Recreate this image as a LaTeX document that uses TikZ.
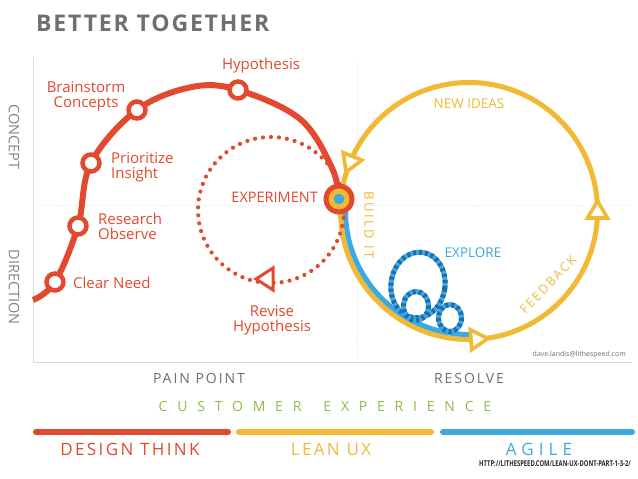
\documentclass[tikz,border=0pt]{standalone}
\usepackage{fontspec}
\usetikzlibrary{calc}
\setmainfont{Open Sans}
\newfontfamily\titlefont[LetterSpace=8]{Open Sans}
\newfontfamily\spfont[LetterSpace=14]{Open Sans}
\newfontfamily\bspfont[LetterSpace=20]{Open Sans}
\newfontfamily\fspfont[LetterSpace=16]{Open Sans}
\newfontfamily\wspfont[LetterSpace=30]{Open Sans}
\newfontfamily\xwspfont[LetterSpace=70]{Open Sans}
\definecolor{cred}{HTML}{E2492F}
\definecolor{cylw}{HTML}{F2B935}
\definecolor{cblue}{HTML}{3DA9E1}
\definecolor{cdblue}{HTML}{1E6BB0}
\definecolor{cgreen}{HTML}{8DBB4C}
\definecolor{cgrey}{HTML}{6E6F71}
\definecolor{caxis}{HTML}{DADADA}
\tikzset{
  marker/.style={circle, draw=cred, fill=white, line width=4.5pt, minimum size=17pt, inner sep=0pt},
  rlbl/.style={text=cred, font=\fontsize{15}{15}\selectfont, inner sep=0pt},
  ylbl/.style={text=cylw, font=\fontsize{13.5}{13.5}\selectfont, inner sep=0pt},
  glbl/.style={text=cgrey, font=\spfont\fontsize{14}{14}\selectfont, inner sep=0pt},
  otri/.pic={\draw[line width=3.6pt, fill=white, line join=miter] (10,0) -- (-7,10) -- (-7,-10) -- cycle;},
  rtri/.pic={\draw[line width=3pt, fill=white, line join=miter] (-10,0) -- (7,11) -- (7,-11) -- cycle;},
}
\begin{document}
\begin{tikzpicture}[x=1pt,y=-1pt]
\useasboundingbox (0,0) rectangle (638,479);
\fill[white] (0,0) rectangle (638,479);
% title
\node[anchor=west, text=cgrey, font=\titlefont\bfseries\fontsize{23}{24}\selectfont, inner sep=0pt] (title) at (36,23) {BETTER TOGETHER};
% axes and grid
\coordinate (axTop) at (33,57);
\coordinate (axOrig) at (33,362);
\coordinate (axRight) at (632,362);
\draw[caxis, line width=1pt] (axTop) -- (axOrig) -- (axRight);
\coordinate (gL) at (40,205); \coordinate (gR) at (632,205);
\coordinate (gT) at (357,60); \coordinate (gB) at (357,360);
\draw[caxis!60, line width=0.6pt, dotted] (gL) -- (gR);
\draw[caxis!60, line width=0.6pt, dotted] (gT) -- (gB);
\node[rotate=-90, text=cgrey!85, font=\fontsize{14.5}{14}\selectfont, inner sep=0pt] (concept) at (14,137) {CONCEPT};
\node[rotate=-90, text=cgrey!85, font=\fontsize{14.5}{14}\selectfont, inner sep=0pt] (direction) at (14,287) {DIRECTION};
% yellow loop
\coordinate (yc) at (469,211);
\draw[cylw, line width=5pt] (yc) circle[radius=128.5];
% blue track
\draw[cblue, line width=5pt] (yc) ++(185:123.5) arc[start angle=185, end angle=89, radius=123.5];
% explore loops
\coordinate (l1) at (418,285);
\coordinate (l2) at (416,306);
\coordinate (l3) at (450,318);
\foreach \c/\a/\b/\r in {l1/27/33/-8, l2/12.5/14.5/0, l3/11.5/13.5/0}{
  \draw[cblue, line width=5pt, rotate around={\r:(\c)}] (\c) ellipse[x radius=\a, y radius=\b];
  \draw[cdblue, line width=5pt, dash pattern=on 3pt off 3pt, rotate around={\r:(\c)}] (\c) ellipse[x radius=\a, y radius=\b];
}
% yellow arrows
\pic[color=cylw, rotate=248] (ya1) at ($(yc)+(202:128.5)$) {otri};
\pic[color=cylw, rotate=90] (ya2) at ($(yc)+(0:128.5)$) {otri};
\pic[color=cylw, rotate=4] (ya3) at ($(yc)+(86:128.5)$) {otri};
% red dotted loop
\coordinate (rc) at (271,210);
\draw[cred, line width=4.2pt, dash pattern=on 0pt off 8pt, line cap=round] (rc) circle[radius=73];
\pic[color=cred] (ra) at (266,279) {rtri};
% red curve
\coordinate (pStart) at (33,300);
\coordinate (pClear) at (55,282);
\coordinate (pRes) at (78,226);
\coordinate (pPri) at (91,163);
\coordinate (pBra) at (137,110);
\coordinate (pTop) at (192,87);
\coordinate (pHyp) at (238,90);
\coordinate (pD1) at (300,119);
\coordinate (pD2) at (332,168);
\coordinate (pExp) at (339,199);
\draw[cred, line width=6pt] plot[smooth, tension=0.6] coordinates {(pStart) (pClear) (pRes) (pPri) (pBra) (pTop) (pHyp) (pD1) (pD2) (pExp)};
\node[marker] (clear) at (pClear) {};
\node[marker] (research) at (pRes) {};
\node[marker] (prior) at (pPri) {};
\node[marker] (brain) at (pBra) {};
\node[marker] (hyp) at (pHyp) {};
% experiment target
\node[circle, fill=cred, minimum size=31pt, inner sep=0pt] (exp) at (pExp) {};
\node[circle, fill=cylw, minimum size=21pt, inner sep=0pt] (expY) at (pExp) {};
\node[circle, fill=cblue, minimum size=10.5pt, inner sep=0pt] (expB) at (pExp) {};
% red labels
\node[rlbl] (tHyp) at (261,66) {Hypothesis};
\node[rlbl, align=center] (tBra) at (86,96) {Brainstorm\\Concepts};
\node[rlbl, align=left, anchor=west] (tPri) at (111,167) {Prioritize\\Insight};
\node[rlbl, align=left, anchor=west] (tRes) at (98,226) {Research\\Observe};
\node[rlbl, anchor=west] (tClear) at (73,283) {Clear Need};
\node[rlbl, anchor=east, font=\fontsize{14.5}{15}\selectfont] (tExp) at (318,197) {EXPERIMENT};
\node[rlbl, align=center] (tRev) at (272,320) {Revise\\Hypothesis};
% yellow / blue labels
\node[ylbl] (tNew) at (469,104) {NEW IDEAS};
\node[ylbl, rotate=-90, font=\bspfont\fontsize{13}{13}\selectfont] (tBuild) at (369,225) {BUILD IT};
\node[ylbl, rotate=46, font=\fspfont\fontsize{12.5}{12.5}\selectfont] (tFeed) at (548,285) {FEEDBACK};
\node[ylbl, text=cblue] (tExplore) at (473,253) {EXPLORE};
\node[text=cgrey, font=\fontsize{7}{7}\selectfont, anchor=east, inner sep=0pt] (mail) at (626,355) {dave.landis@lithespeed.com};
% bottom texts
\node[glbl] (tPain) at (199,378) {PAIN POINT};
\node[glbl] (tResolve) at (469,378) {RESOLVE};
\node[text=cgreen, font=\xwspfont\fontsize{14}{14}\selectfont, inner sep=0pt] (tCx) at (325,406) {CUSTOMER\hspace*{22pt}EXPERIENCE};
\coordinate (b1a) at (36,432); \coordinate (b1b) at (228,432);
\coordinate (b2a) at (239,432); \coordinate (b2b) at (431,432);
\coordinate (b3a) at (443,432); \coordinate (b3b) at (632,432);
\draw[cred, line width=6pt, line cap=round] (b1a) -- (b1b);
\draw[cylw, line width=6pt, line cap=round] (b2a) -- (b2b);
\draw[cblue, line width=6pt, line cap=round] (b3a) -- (b3b);
\node[text=cred, font=\spfont\fontsize{17}{17}\selectfont, inner sep=0pt] (tDT) at (130,449) {DESIGN THINK};
\node[text=cylw, font=\spfont\fontsize{17}{17}\selectfont, inner sep=0pt] (tLUX) at (331,449) {LEAN UX};
\node[text=cblue, font=\wspfont\fontsize{17}{17}\selectfont, inner sep=0pt] (tAG) at (539,449) {AGILE};
\node[text=black!85, font=\bfseries\fontsize{8}{8}\selectfont, inner sep=0pt] (tUrl) at (555,464) {\scalebox{0.73}[1]{HTTP://LITHESPEED.COM/LEAN-UX-DONT-PART-1-3-2/}};
\end{tikzpicture}
\end{document}
